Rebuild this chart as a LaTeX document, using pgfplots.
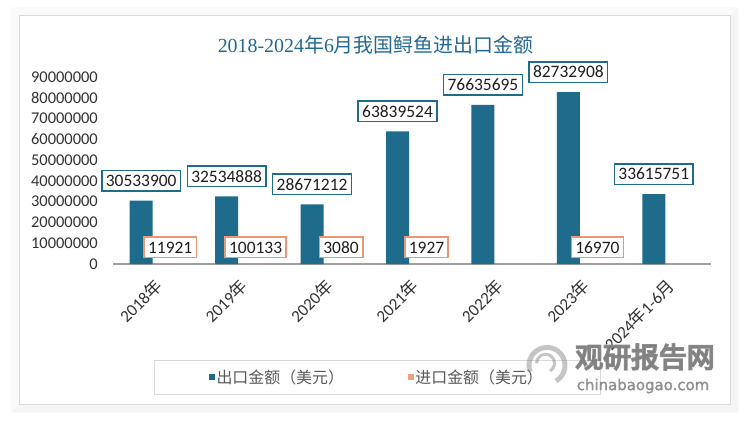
\documentclass[border=0pt]{standalone}
\usepackage{pgfplots}
\pgfplotsset{compat=1.18}
\usepackage{fontspec}
\setmainfont{Carlito}
\newfontfamily\cjk{Noto Sans CJK SC}
\newfontfamily\cjkb[FakeBold=6]{Noto Sans CJK SC}
\newfontfamily\tser{Liberation Serif}
\newfontfamily\dvs[FakeBold=1.5]{DejaVu Sans}
\definecolor{expcol}{RGB}{30,107,140}
\definecolor{impcol}{RGB}{240,160,122}
\definecolor{impbrd}{RGB}{236,150,115}
\definecolor{titcol}{RGB}{35,105,145}
\definecolor{tickcol}{RGB}{50,50,50}
\definecolor{labcol}{RGB}{30,30,30}
\definecolor{legcol}{RGB}{89,89,89}
\definecolor{brd}{RGB}{217,217,217}
\definecolor{wm}{RGB}{128,128,128}
\begin{document}
\begin{tikzpicture}
\begin{scope}[x=1bp,y=1bp]
\path[fill=white] (0,0) rectangle (750,421);
\foreach \i in {1,...,8} {
  \draw[black, opacity=0.02, line width=1.6bp] (19.3-\i,17-\i) rectangle (730+\i,405.3+\i);
}
\draw[fill=white, draw=brd, line width=1bp] (19.3,17) rectangle (730,405.3);
\node[text=titcol, font=\fontsize{20}{20}\selectfont] at (375.5,376) {{\tser 2018-2024}{\cjk 年}{\tser 6}{\cjk 月我国鲟鱼进出口金额}};
\draw[draw=brd, line width=1bp] (154,27) rectangle (600,61);
\end{scope}
\begin{axis}[
  at={(113bp,157bp)}, anchor=south west,
  width=598bp, height=187bp, scale only axis,
  xmin=-0.5, xmax=6.5, ymin=0, ymax=90000000,
  axis line style={draw=none},
  major tick length=0pt,
  xtick={0,1,2,3,4,5,6},
  xticklabels={{2018{\cjk 年}},{2019{\cjk 年}},{2020{\cjk 年}},{2021{\cjk 年}},{2022{\cjk 年}},{2023{\cjk 年}},{2024{\cjk 年}1-6{\cjk 月}}},
  ytick={0,10000000,20000000,30000000,40000000,50000000,60000000,70000000,80000000,90000000},
  scaled y ticks=false,
  /pgf/number format/assume math mode=true,
  yticklabel={\pgfmathprintnumber[fixed,precision=0,1000 sep={}]{\tick}},
  yticklabel style={anchor=east, inner sep=0pt, xshift=-15bp, font=\fontsize{16.5}{16.5}\selectfont, text=tickcol},
  xticklabel style={xshift=3bp, yshift=-19bp, rotate=45, anchor=east, inner sep=0pt, font=\fontsize{17}{17}\selectfont, text=tickcol},
  clip=false,
  legend columns=2,
  legend style={at={(0.4415,-0.604)}, anchor=center, draw=none, fill=none,
    font=\cjk\fontsize{16}{16}\selectfont, text=legcol,
    /tikz/every even column/.append style={column sep=62bp}},
  legend cell align=left,
]
\draw[gray!75, line width=1.3bp] (axis cs:-0.5,0) -- (axis cs:6.5,0);
\addplot[ybar, bar width=23bp, bar shift=-14.5bp, fill=expcol, draw=none, forget plot,
  point meta=explicit symbolic, nodes near coords,
  nodes near coords style={draw=expcol, line width=1.5bp, fill=white, text=labcol,
    font=\fontsize{17.5}{17.5}\selectfont, inner xsep=4bp, inner ysep=4.5bp,
    text height=11.5bp, text depth=0bp, anchor=south, xshift=-14.5bp, yshift=9bp}]
  table[x=x, y=y, meta=lab] {
x y lab
0 30533900 30533900
1 32534888 32534888
2 28671212 28671212
3 63839524 63839524
4 76635695 76635695
5 82732908 82732908
6 33615751 33615751
};
\addplot[ybar, bar width=23bp, bar shift=14.5bp, fill=impcol, draw=none, forget plot,
  point meta=explicit symbolic, nodes near coords,
  nodes near coords style={draw=impbrd, line width=1.5bp, fill=white, text=labcol,
    font=\fontsize{17.5}{17.5}\selectfont, inner xsep=4bp, inner ysep=4.5bp,
    text height=11.5bp, text depth=0bp, anchor=south, xshift=14.5bp, yshift=5.5bp}]
  table[x=x, y=y, meta=lab] {
x y lab
0 11921 11921
1 100133 100133
2 3080 3080
3 1927 1927
5 16970 16970
};
\addlegendimage{legend image code/.code={\fill[expcol] (0bp,-2.5bp) rectangle (5bp,2.5bp);}}
\addlegendentry{出口金额（美元）}
\addlegendimage{legend image code/.code={\fill[impcol] (0bp,-2.5bp) rectangle (5bp,2.5bp);}}
\addlegendentry{进口金额（美元）}
\end{axis}
\begin{scope}[x=1bp,y=1bp]
\draw[wm, opacity=0.45, line width=5bp] (556,40) arc[start angle=-60, end angle=200, radius=18];
\draw[wm, opacity=0.45, line width=3bp] (550,50) arc[start angle=-60, end angle=180, radius=9];
\node[text=wm, opacity=0.9, font=\cjkb\fontsize{28}{28}\selectfont] at (645,64) {观研报告网};
\node[text=wm, opacity=0.85, font=\dvs\fontsize{15}{15}\selectfont] at (643,35) {chinabaogao.com};
\end{scope}
\end{tikzpicture}
\end{document}
